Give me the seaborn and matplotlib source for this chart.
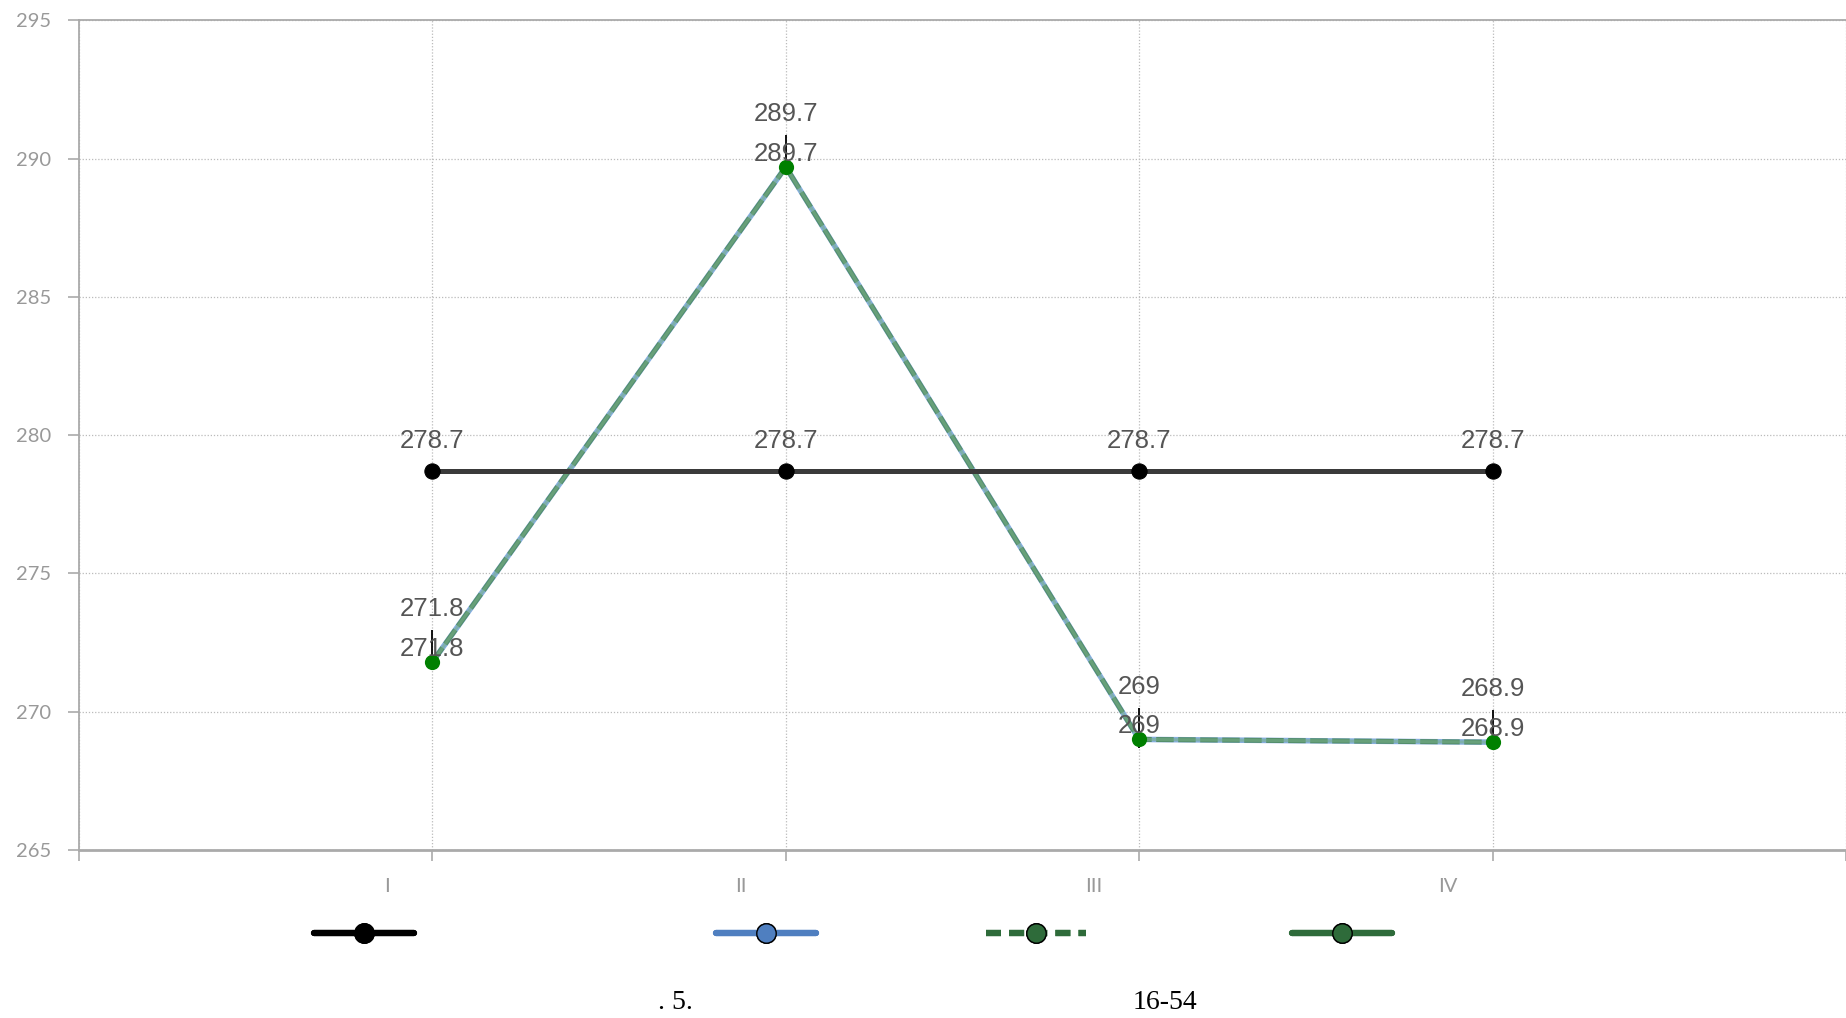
import numpy as np
import pandas as pd
import matplotlib
matplotlib.use("Agg")
import matplotlib.pyplot as plt
import matplotlib.transforms as mtransforms
from matplotlib.lines import Line2D
import seaborn as sns

# data
quarters = ["I", "II", "III", "IV"]
x_pos = [1, 2, 3, 4]
mean_vals = [278.7, 278.7, 278.7, 278.7]
blue_vals = [271.8, 289.7, 269.0, 268.9]
green_dash_vals = [271.8, 289.7, 269.0, 268.9]
green_vals = [271.8, 289.7, 269.0, 268.9]
err_low = [0.3, 0.3, 0.3, 0.3]
err_high = [1.15, 1.15, 1.15, 1.15]
label_mean = ["278.7", "278.7", "278.7", "278.7"]
label_green = ["271.8", "289.7", "269", "268.9"]
y_ticks = [265, 270, 275, 280, 285, 290, 295]
footer = [". 5.", "16-54"]

sns.set_style("white")
plt.rcParams['font.family'] = ['Lato', 'DejaVu Sans']

df = pd.DataFrame({
    "x": x_pos,
    "mean": mean_vals,
    "blue": blue_vals,
    "gdash": green_dash_vals,
    "green": green_vals,
})

fig = plt.figure(figsize=(18.46, 10.18), dpi=100)
ax = fig.add_axes([0.0428, 0.165, 0.9572, 0.815])

# green / blue series (overlapping)
sns.lineplot(data=df, x="x", y="blue", ax=ax, color="#86aede", lw=4, zorder=3)
sns.lineplot(data=df, x="x", y="gdash", ax=ax, color="#4e8a5e", lw=3.6,
             dashes=False, zorder=4, alpha=0.9)
line = ax.lines[-1]
line.set_dashes([3.5, 0.9])
sns.lineplot(data=df, x="x", y="green", ax=ax, color="#79b088", lw=2.2,
             zorder=5, alpha=0.55)

# black mean line
sns.lineplot(data=df, x="x", y="mean", ax=ax, color="#3a3a3a", lw=3.6,
             marker="o", markersize=11, markerfacecolor="black",
             markeredgecolor="black", zorder=6)

# small black sticks through the green points
ax.errorbar(df["x"], df["green"], yerr=[err_low, err_high], fmt="none",
            ecolor="black", elinewidth=1.3, capsize=0, zorder=7)
sns.scatterplot(data=df, x="x", y="green", ax=ax, color="#008000", s=120,
                edgecolor="#008000", linewidth=0, zorder=8)

lab_font = dict(family=['Liberation Sans', 'DejaVu Sans'], fontsize=18.5,
                color="#555555", ha="center", va="center", zorder=9)
for xv, yv, t in zip(x_pos, mean_vals, label_mean):
    ax.annotate(t, (xv, yv), xytext=(0, 22), textcoords="offset points", **lab_font)
for xv, yv, t in zip(x_pos, green_vals, label_green):
    ax.annotate(t, (xv, yv), xytext=(0, 9.5), textcoords="offset points", **lab_font)
    ax.annotate(t, (xv, yv), xytext=(0, 38), textcoords="offset points", **lab_font)

ax.set_xlim(0, 5)
ax.set_ylim(265, 295)
ax.set_yticks(y_ticks)
ax.set_xticks([0] + x_pos + [5])
ax.set_xticklabels([""] + quarters + [""])
ax.set_xlabel("")
ax.set_ylabel("")

ax.grid(True, linestyle=(0, (1, 1.5)), color="#bbbbbb", linewidth=0.9)
for side in ["left", "bottom", "top"]:
    ax.spines[side].set_color("#aaaaaa")
    ax.spines[side].set_linewidth(1.3)
ax.spines["bottom"].set_linewidth(2)
ax.spines["right"].set_visible(False)

ax.tick_params(axis="y", direction="out", length=8, width=1.2, color="#aaaaaa",
               labelsize=14.5, labelcolor="#999999", pad=12, left=True)
ax.tick_params(axis="x", direction="out", length=8, width=1.2, color="#aaaaaa",
               labelsize=14.5, labelcolor="#999999", pad=12, bottom=True)
shift = mtransforms.ScaledTranslation(-0.45, 0, fig.dpi_scale_trans)
for lbl in ax.get_xticklabels():
    lbl.set_transform(lbl.get_transform() + shift)

# legend entries (labels empty in the reference)
handles = [
    Line2D([], [], color="black", lw=4.5, marker="o", markersize=14,
           markerfacecolor="black", markeredgecolor="black"),
    Line2D([], [], color="#4f7fc0", lw=4.5, marker="o", markersize=14,
           markerfacecolor="#4f7fc0", markeredgecolor="black"),
    Line2D([], [], color="#2e6b3a", lw=4.5, ls=(0, (2.4, 1.3)), marker="o",
           markersize=14, markerfacecolor="#2e6b3a", markeredgecolor="black"),
    Line2D([], [], color="#2e6b3a", lw=4.5, marker="o", markersize=14,
           markerfacecolor="#2e6b3a", markeredgecolor="black"),
]
leg_x = [0.197, 0.415, 0.561, 0.727]
for h, lx in zip(handles, leg_x):
    lg = fig.legend([h], [""], loc="center", bbox_to_anchor=(lx, 0.083),
                    frameon=False, handlelength=7.2, handletextpad=0,
                    borderpad=0)
    fig.add_artist(lg)

fig.text(0.366, 0.015, footer[0], family=['Liberation Serif', 'DejaVu Serif'],
         fontsize=20, ha="center", va="center", color="black")
fig.text(0.631, 0.015, footer[1], family=['Liberation Serif', 'DejaVu Serif'],
         fontsize=20, ha="center", va="center", color="black")

fig.savefig("out.png", dpi=100)
